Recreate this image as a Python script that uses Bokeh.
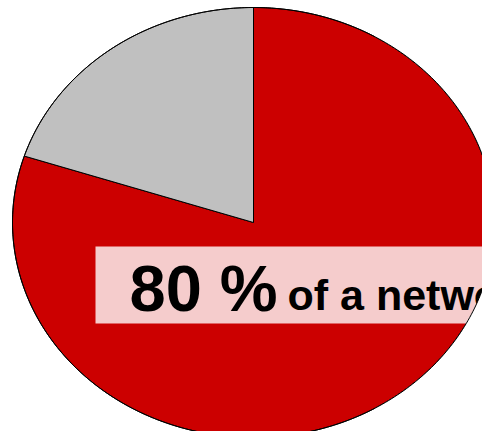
import numpy as np
from bokeh.plotting import figure
from bokeh.models import Range1d
from bokeh.core.properties import value
from bokeh.embed import file_html
from bokeh.resources import INLINE

# ---- data ----
categories = ["network", "rest"]
shares = [80, 20]
colors = ["#CC0000", "#C0C0C0"]
big_label = "80 %"
small_label = "of a network"

# ---- layout (figure pixels -> unit-ellipse data space) ----
CX, CY, RX, RY = 253.0, 222.0, 241.0, 215.0
W, H = 482, 431
def dx(px):
    return (px - CX) / RX
def dy(py):
    return (CY - py) / RY

p = figure(width=W, height=H, output_backend="svg", toolbar_location=None,
           x_range=Range1d(dx(0), dx(W)), y_range=Range1d(dy(H), dy(0)),
           min_border=0, outline_line_color=None)
p.axis.visible = False
p.grid.visible = False
p.background_fill_color = "white"
p.border_fill_color = "white"

# wedges, clockwise from 12 o'clock
total = float(sum(shares))
start = np.pi / 2
xs, ys = [], []
for v in shares:
    sweep = 2 * np.pi * v / total
    t = np.linspace(start, start - sweep, 200)
    xs.append(np.concatenate([[0.0], np.cos(t)]).tolist())
    ys.append(np.concatenate([[0.0], np.sin(t)]).tolist())
    start -= sweep
p.patches(xs, ys, fill_color=colors, line_color="black", line_width=1)

# translucent label box
p.quad(left=dx(95), right=dx(W + 20), top=dy(246), bottom=dy(323),
       fill_color="white", fill_alpha=0.8, line_color=None)

# labels
p.text(x=[dx(129)], y=[dy(288)], text=[big_label], text_font=value("Liberation Sans"),
       text_font_style="bold", text_font_size="65px", text_baseline="alphabetic",
       text_color="black")
p.text(x=[dx(287)], y=[dy(294)], text=[small_label], text_font=value("Liberation Sans"),
       text_font_style="bold", text_font_size="43px", text_baseline="alphabetic",
       text_color="black")

# white mask outside the ellipse on the right (clips the label to the pie)
t = np.linspace(-np.pi / 3, np.pi / 3, 200)
mx = np.concatenate([np.cos(t), [3.0, 3.0]])
my = np.concatenate([np.sin(t), [np.sin(np.pi / 3), np.sin(-np.pi / 3)]])
p.patch(mx, my, fill_color="white", line_color=None)

# outline on top
ta = np.linspace(0, 2 * np.pi, 400)
p.line(np.cos(ta), np.sin(ta), line_color="black", line_width=1)

open("out.html", "w").write(file_html(p, INLINE))
